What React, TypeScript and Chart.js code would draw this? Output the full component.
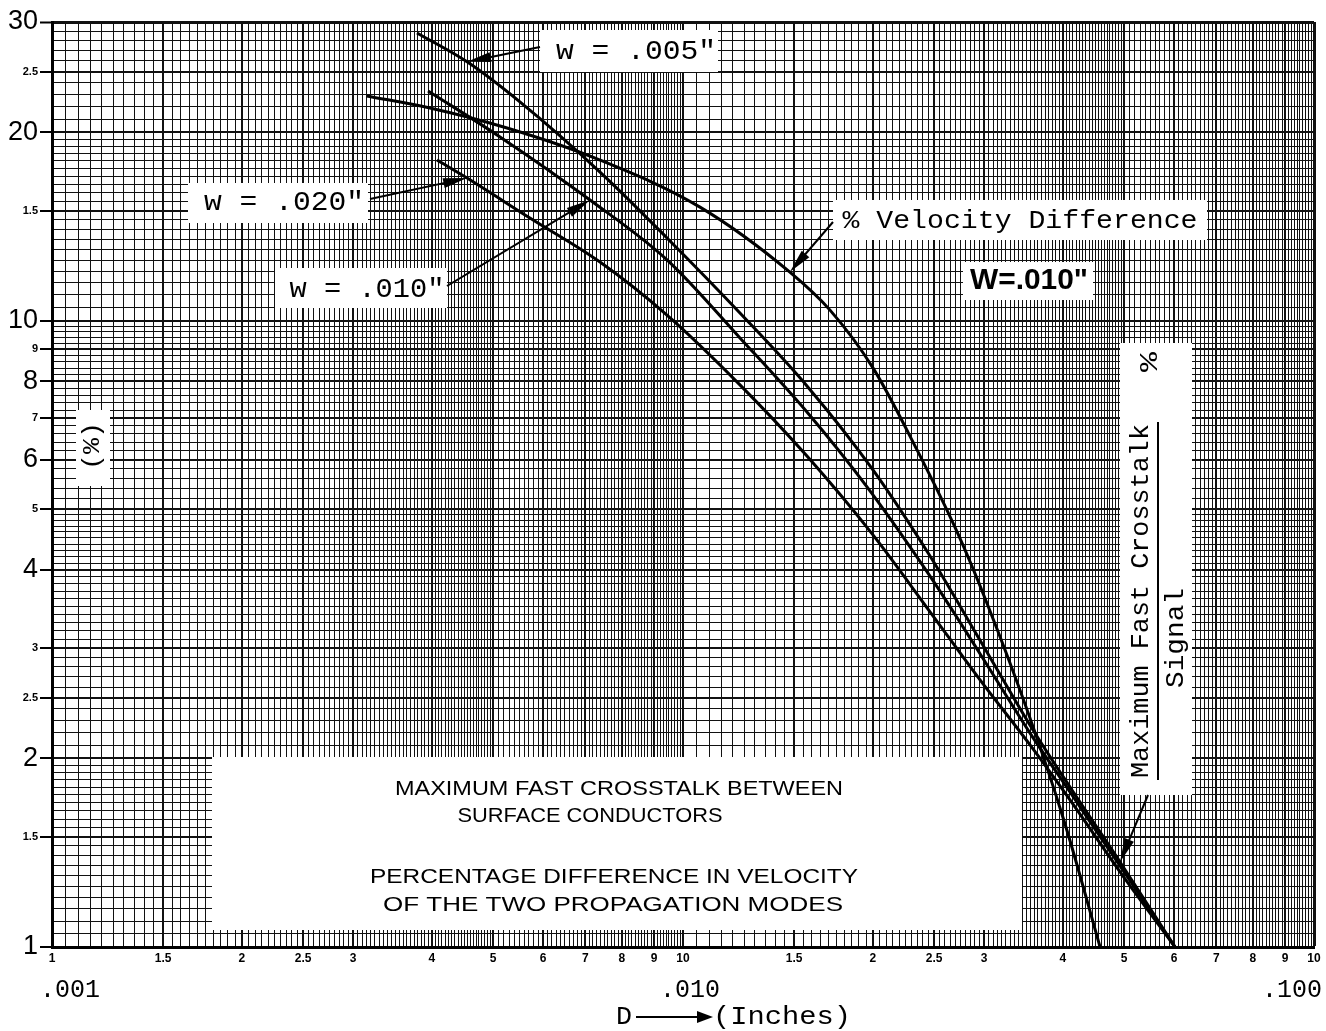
import React, { useEffect, useRef } from 'react';
import { Chart, registerables } from 'chart.js';

Chart.register(...registerables);

// ---------- data (D in inches, value in %) ----------
const W005_D = [0.003788, 0.004548, 0.005515, 0.007387, 0.009433, 0.01231, 0.01572, 0.02, 0.02463, 0.02956, 0.03548, 0.04105, 0.04927, 0.06022];
const W005_PCT = [28.81, 25.91, 22.36, 17.28, 13.56, 10.29, 7.87, 5.78, 4.21, 3.09, 2.26, 1.8, 1.367, 1.0];

const W010_D = [0.003944, 0.005129, 0.007122, 0.009433, 0.01231, 0.01572, 0.01957, 0.02463, 0.02956, 0.03548, 0.04105, 0.04927, 0.06022];
const W010_PCT = [23.28, 19.66, 15.59, 12.51, 9.39, 7.15, 5.43, 3.91, 2.94, 2.196, 1.768, 1.347, 1.0];

const W020_D = [0.004075, 0.004548, 0.00572, 0.007387, 0.009433, 0.01231, 0.01572, 0.02, 0.02463, 0.02956, 0.03548, 0.04105, 0.04927, 0.06022];
const W020_PCT = [18.06, 16.9, 14.59, 12.41, 10.21, 7.9, 6.08, 4.55, 3.43, 2.67, 2.102, 1.717, 1.318, 1.0];

const VEL_D = [0.003155, 0.003972, 0.005262, 0.007387, 0.01064, 0.01477, 0.0171, 0.02, 0.02349, 0.02719, 0.03032, 0.03548, 0.04031, 0.04581];
const VEL_PCT = [22.86, 21.87, 20.32, 18.06, 15.19, 11.96, 10.4, 8.41, 6.22, 4.6, 3.54, 2.32, 1.572, 1.0];

// ---------- axes / graph paper ----------
const X_MIN = 0.001;
const X_MAX = 0.1;
const Y_MIN = 1;
const Y_MAX = 30;
const X_DECADES = [0.001, 0.01];
const X_STEPS = [[1, 2, 0.05], [2, 5, 0.05], [5, 10, 0.1]];
const Y_DECADES = [1, 10];
const Y_STEPS = [[1, 2, 0.05], [2, 5, 0.1], [5, 10, 0.2]];

const X_LABEL_VALUES = [0.001, 0.0015, 0.002, 0.0025, 0.003, 0.004, 0.005, 0.006, 0.007, 0.008, 0.009, 0.01,
  0.015, 0.02, 0.025, 0.03, 0.04, 0.05, 0.06, 0.07, 0.08, 0.09, 0.1];
const X_LABEL_TEXT = ['1', '1.5', '2', '2.5', '3', '4', '5', '6', '7', '8', '9', '10',
  '1.5', '2', '2.5', '3', '4', '5', '6', '7', '8', '9', '10'];
const X_DECADE_VALUES = [0.001, 0.01, 0.1];
const X_DECADE_TEXT = ['.001', '.010', '.100'];

const Y_LABEL_VALUES = [1, 1.5, 2, 2.5, 3, 4, 5, 6, 7, 8, 9, 10, 15, 20, 25, 30];
const Y_LABEL_TEXT = ['1', '1.5', '2', '2.5', '3', '4', '5', '6', '7', '8', '9', '10', '1.5', '20', '2.5', '30'];
const Y_BIG_VALUES = [1, 2, 4, 6, 8, 10, 20, 30];

function buildGrid(decades: number[], steps: number[][], max: number): number[] {
  const out: number[] = [];
  for (const base of decades) {
    for (const [a, b, s] of steps) {
      const k0 = Math.round(a / s);
      const k1 = Math.round(b / s);
      for (let k = k0; k < k1; k++) {
        const v = base * k * s;
        if (v <= max * (1 + 1e-9)) out.push(v);
      }
    }
  }
  if (Math.abs(out[out.length - 1] - max) / max > 1e-6) out.push(max);
  return out;
}
const near = (a: number, b: number) => Math.abs(a - b) / b < 1e-6;

const X_GRID = buildGrid(X_DECADES, X_STEPS, X_MAX);
const Y_GRID = buildGrid(Y_DECADES, Y_STEPS, Y_MAX);
const X_GRID_LABEL = X_GRID.map((v) => {
  const i = X_LABEL_VALUES.findIndex((l) => near(v, l));
  return i >= 0 ? X_LABEL_TEXT[i] : '';
});
const Y_GRID_LABEL = Y_GRID.map((v) => {
  const i = Y_LABEL_VALUES.findIndex((l) => near(v, l));
  return i >= 0 ? Y_LABEL_TEXT[i] : '';
});
const Y_GRID_BIG = Y_GRID.map((v) => Y_BIG_VALUES.some((l) => near(v, l)));

// ---------- annotation layout (pixels) ----------
const WHITE_BOXES = [
  [540, 30, 178, 42],
  [188, 183, 180, 40],
  [275, 268, 172, 40],
  [833, 200, 374, 40],
  [963, 262, 130, 38],
  [1120, 343, 72, 452],
  [76, 410, 34, 76],
  [212, 757, 810, 173],
];

type Note = { t: string; x: number; y: number; w: number; font: string; rot?: boolean };
const NOTES: Note[] = [
  { t: 'w = .005"', x: 636, y: 52, w: 160, font: '27px "Liberation Mono"' },
  { t: 'w = .020"', x: 284, y: 203, w: 160, font: '27px "Liberation Mono"' },
  { t: 'w = .010"', x: 367, y: 290, w: 155, font: '27px "Liberation Mono"' },
  { t: '% Velocity Difference', x: 1020, y: 221, w: 355, font: '26px "Liberation Mono"' },
  { t: 'W=.010"', x: 1029, y: 281, w: 118, font: 'bold 30px "Liberation Sans"' },
  { t: 'MAXIMUM FAST CROSSTALK BETWEEN', x: 619, y: 789, w: 448, font: '21px "Liberation Sans"' },
  { t: 'SURFACE CONDUCTORS', x: 590, y: 816, w: 265, font: '21px "Liberation Sans"' },
  { t: 'PERCENTAGE DIFFERENCE IN VELOCITY', x: 614, y: 877, w: 488, font: '21px "Liberation Sans"' },
  { t: 'OF THE TWO PROPAGATION MODES', x: 613, y: 905, w: 460, font: '21px "Liberation Sans"' },
  { t: 'Maximum Fast Crosstalk', x: 1141, y: 601, w: 354, font: '25px "Liberation Mono"', rot: true },
  { t: 'Signal', x: 1176, y: 638, w: 100, font: '25px "Liberation Mono"', rot: true },
  { t: '%', x: 1150, y: 362, w: 20, font: '25px "Liberation Mono"', rot: true },
  { t: '(%)', x: 93, y: 446, w: 48, font: '24px "Liberation Mono"', rot: true },
];

function fitText(ctx: CanvasRenderingContext2D, n: Note) {
  ctx.save();
  ctx.font = n.font;
  ctx.fillStyle = '#000';
  ctx.textAlign = 'center';
  ctx.textBaseline = 'middle';
  const m = ctx.measureText(n.t).width || 1;
  ctx.translate(n.x, n.y);
  if (n.rot) ctx.rotate(-Math.PI / 2);
  ctx.scale(n.w / m, 1);
  ctx.fillText(n.t, 0, 0);
  ctx.restore();
}

function arrow(ctx: CanvasRenderingContext2D, x1: number, y1: number, x2: number, y2: number, head = 24, half = 5) {
  const a = Math.atan2(y2 - y1, x2 - x1);
  ctx.save();
  ctx.strokeStyle = '#000';
  ctx.fillStyle = '#000';
  ctx.lineWidth = 2;
  ctx.beginPath();
  ctx.moveTo(x1, y1);
  ctx.lineTo(x2 - Math.cos(a) * head * 0.5, y2 - Math.sin(a) * head * 0.5);
  ctx.stroke();
  const bx = x2 - head * Math.cos(a);
  const by = y2 - head * Math.sin(a);
  ctx.beginPath();
  ctx.moveTo(x2, y2);
  ctx.lineTo(bx + half * Math.sin(a), by - half * Math.cos(a));
  ctx.lineTo(bx - half * Math.sin(a), by + half * Math.cos(a));
  ctx.closePath();
  ctx.fill();
  ctx.restore();
}

const paperPlugin = {
  id: 'paperNotes',
  beforeDatasetsDraw(chart: any) {
    const ctx: CanvasRenderingContext2D = chart.ctx;
    ctx.save();
    ctx.fillStyle = '#fff';
    for (const [x, y, w, h] of WHITE_BOXES) ctx.fillRect(x, y, w, h);
    ctx.restore();
    for (const n of NOTES) fitText(ctx, n);
    // fraction line of the crosstalk label
    ctx.save();
    ctx.strokeStyle = '#000';
    ctx.lineWidth = 2;
    ctx.beginPath();
    ctx.moveTo(1158, 780);
    ctx.lineTo(1158, 422);
    ctx.stroke();
    ctx.restore();
  },
  afterDatasetsDraw(chart: any) {
    const ctx: CanvasRenderingContext2D = chart.ctx;
    const pt = (ds: number, i: number) => chart.getDatasetMeta(ds).data[i];
    const p005 = pt(0, 1);
    const p010 = pt(1, 2);
    const p020 = pt(2, 1);
    const pVel = pt(3, 5);
    const pCross = pt(0, 12);
    arrow(ctx, 540, 47, p005.x, p005.y);
    arrow(ctx, 370, 199, p020.x, p020.y);
    arrow(ctx, 447, 286, p010.x, p010.y);
    arrow(ctx, 833, 222, pVel.x, pVel.y);
    arrow(ctx, 1148, 795, pCross.x, pCross.y);
  },
  afterDraw(chart: any) {
    const ctx: CanvasRenderingContext2D = chart.ctx;
    const xs = chart.scales.x;
    const offs = [18, 7, -22];
    X_DECADE_VALUES.forEach((v, i) => {
      fitText(ctx, { t: X_DECADE_TEXT[i], x: xs.getPixelForValue(v) + offs[i], y: 990, w: 60, font: '26px "Liberation Mono"' });
    });
    fitText(ctx, { t: 'D', x: 624, y: 1017, w: 16, font: '26px "Liberation Mono"' });
    fitText(ctx, { t: '(Inches)', x: 782, y: 1017, w: 138, font: '26px "Liberation Mono"' });
    arrow(ctx, 636, 1017, 713, 1017, 16, 6);
  },
};

const mk = (d: number[], p: number[]) => d.map((x, i) => ({ x, y: p[i] }));

export default function App() {
  const ref = useRef<HTMLCanvasElement>(null);
  useEffect(() => {
    if (!ref.current) return;
    const line = (label: string, data: { x: number; y: number }[]) => ({
      label,
      data,
      borderColor: '#000',
      borderWidth: 3,
      pointRadius: 0,
      fill: false,
      cubicInterpolationMode: 'monotone' as const,
    });
    const chart = new Chart(ref.current, {
      type: 'line',
      data: {
        datasets: [
          line('w = .005"', mk(W005_D, W005_PCT)),
          line('w = .010"', mk(W010_D, W010_PCT)),
          line('w = .020"', mk(W020_D, W020_PCT)),
          line('% Velocity Difference W=.010"', mk(VEL_D, VEL_PCT)),
        ],
      },
      options: {
        responsive: false,
        animation: false,
        devicePixelRatio: 1,
        layout: { padding: { top: 22, right: 12, left: 0, bottom: 0 } },
        plugins: { legend: { display: false }, tooltip: { enabled: false } },
        scales: {
          x: {
            type: 'logarithmic',
            min: X_MIN,
            max: X_MAX,
            afterBuildTicks: (s: any) => {
              s.ticks = X_GRID.map((v) => ({ value: v }));
            },
            afterFit: (s: any) => {
              s.height = 84;
            },
            ticks: {
              autoSkip: false,
              maxRotation: 0,
              minRotation: 0,
              padding: 4,
              color: '#000',
              font: { family: 'Liberation Sans', size: 12, weight: 'bold' },
              callback: (_v: any, i: number) => X_GRID_LABEL[i],
            },
            grid: {
              color: '#111',
              drawTicks: false,
              lineWidth: (c: any) => (c.index === X_GRID.length - 1 ? 3 : X_GRID_LABEL[c.index] ? 2 : 1),
            },
            border: { color: '#000', width: 3 },
          },
          y: {
            type: 'logarithmic',
            min: Y_MIN,
            max: Y_MAX,
            afterBuildTicks: (s: any) => {
              s.ticks = Y_GRID.map((v) => ({ value: v }));
            },
            afterFit: (s: any) => {
              s.width = 52;
            },
            ticks: {
              autoSkip: false,
              padding: 2,
              color: '#000',
              font: (c: any) =>
                Y_GRID_BIG[c.index]
                  ? { family: 'Liberation Sans', size: 27 }
                  : { family: 'Liberation Sans', size: 11, weight: 'bold' },
              callback: (_v: any, i: number) => Y_GRID_LABEL[i],
            },
            grid: {
              color: '#111',
              tickLength: 12,
              tickWidth: 2,
              tickColor: (c: any) => (Y_GRID_LABEL[c.index] ? '#000' : 'rgba(0,0,0,0)'),
              lineWidth: (c: any) => (c.index === Y_GRID.length - 1 ? 3 : Y_GRID_LABEL[c.index] ? 2 : 1),
            },
            border: { color: '#000', width: 3 },
          },
        },
      } as any,
      plugins: [paperPlugin],
    });
    return () => chart.destroy();
  }, []);
  return (
    <div style={{ position: 'fixed', left: 0, top: 0, width: 1326, height: 1031, background: '#fff' }}>
      <canvas ref={ref} width={1326} height={1031} style={{ display: 'block' }} />
    </div>
  );
}
